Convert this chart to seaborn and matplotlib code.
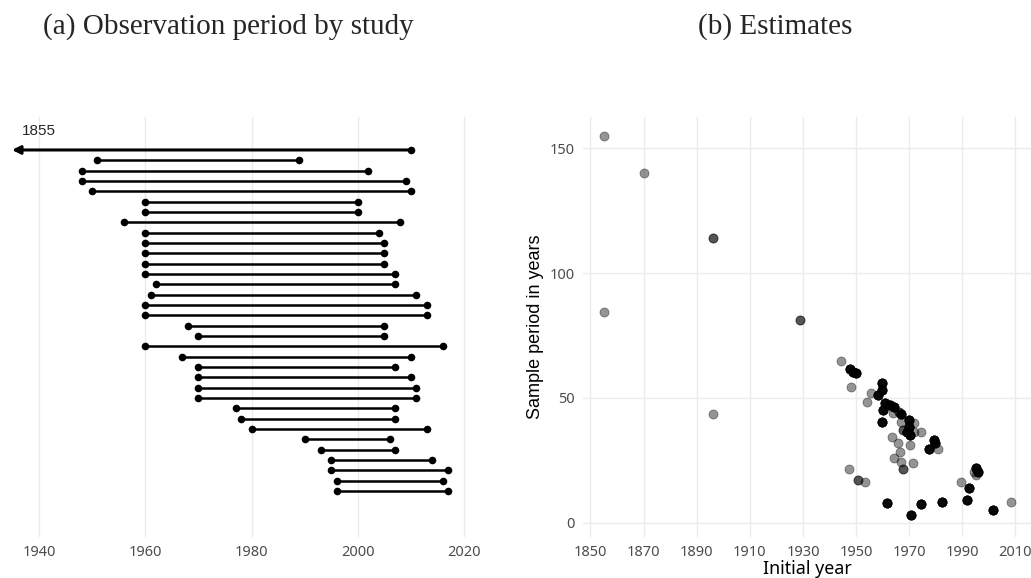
import numpy as np
import pandas as pd
import matplotlib
matplotlib.use("Agg")
import matplotlib.pyplot as plt
import seaborn as sns

# ---------------- data ----------------
# (a) observation period by study
start_years = [1855, 1951, 1948, 1948, 1950, 1960, 1960, 1956, 1960, 1960, 1960, 1960,
               1960, 1962, 1961, 1960, 1960, 1968, 1970, 1960, 1967, 1970, 1970, 1970,
               1970, 1977, 1978, 1980, 1990, 1993, 1995, 1995, 1996, 1996]
end_years = [2010, 1989, 2002, 2009, 2010, 2000, 2000, 2008, 2004, 2005, 2005, 2005,
             2007, 2007, 2011, 2013, 2013, 2005, 2005, 2016, 2010, 2007, 2010, 2011,
             2011, 2007, 2007, 2013, 2006, 2007, 2014, 2017, 2016, 2017]
left_ticks = [1940, 1960, 1980, 2000, 2020]

# (b) estimates: initial year, sample period, number of overlapping estimates
est_year = [1855, 1870, 1855, 1896, 1944.5, 1948, 1955.8, 1954, 1947.5, 1953.4,
            1989.7, 2008.3, 1963.6, 1965.7, 1970.5, 1966.7, 1964.4, 1967, 1971.4, 1971.7,
            1972, 1974.6, 1980.8, 1964.1, 1967, 1994.3, 1995, 1966,
            1896, 1929, 1950.8, 1967.6, 1967.7,
            1947.6, 1948.9, 1949.9, 1959.8, 1959.6, 1958.4, 1961, 1962.9, 1964.2, 1967,
            1959.8, 1960, 1969.8, 1969.8, 1969, 1970.5, 1979.3, 1979.9, 1977.4, 1995,
            1996, 1992.4, 1991.6, 1961.7, 1970.7, 1974.5, 1982.3, 2001.6]
est_period = [155, 140, 84.3, 43.5, 64.7, 54.4, 52.1, 48.5, 21.5, 16.2,
              16.4, 8.2, 34.2, 32.1, 31.1, 28.4, 26, 24.4, 24, 39.8,
              36.5, 36.2, 29.5, 43.8, 40.5, 20.2, 19.1, 44.5,
              114, 81.2, 17.0, 21.5, 37.1,
              61.5, 60.5, 59.9, 56.1, 53.2, 51.2, 47.8, 47.2, 46.5, 43.5,
              40.5, 45, 41.1, 38.5, 36.5, 35.1, 33.1, 31.8, 29.5, 21.8,
              20.4, 13.8, 9.1, 7.9, 3.2, 7.4, 8.2, 5.0]
est_count = [1, 1, 1, 1, 1, 1, 1, 1, 1, 1,
             1, 1, 1, 1, 1, 1, 1, 1, 1, 1,
             1, 1, 1, 1, 1, 1, 1, 2,
             2, 2, 2, 2, 2,
             6, 6, 6, 6, 6, 6, 6, 6, 6, 6,
             6, 6, 6, 6, 6, 6, 6, 6, 6, 6,
             6, 6, 6, 6, 6, 6, 6, 6]
right_xticks = [1850, 1870, 1890, 1910, 1930, 1950, 1970, 1990, 2010]
right_yticks = [0, 50, 100, 150]

title_a = "(a) Observation period by study"
title_b = "(b) Estimates"
xlabel_b = "Initial year"
ylabel_b = "Sample period in years"

# ---------------- style ----------------
sns.set_theme(style="whitegrid")
plt.rcParams['font.family'] = ['Noto Sans', 'DejaVu Sans']
grid_c = "#ebebeb"
tick_c = "#4d4d4d"

W, H = 1031, 578
fig = plt.figure(figsize=(W / 100, H / 100), dpi=100)

def fx(px):
    return px / W

def fy(py):
    return 1 - py / H

# ---------------- panel (a) ----------------
axA = fig.add_axes([fx(4), fy(537), fx(486), (537 - 117) / H])
n = len(start_years)
rows = np.arange(1, n + 1)
axA.set_xlim(1933.41, 1933.41 + 486 / 5.3125)
axA.set_ylim(38.45, -2.19)
xmin = axA.get_xlim()[0]

dfA = pd.DataFrame({"start": start_years, "end": end_years, "row": rows})
dfA["clipped"] = dfA["start"] < xmin
seg = dfA[~dfA["clipped"]]
axA.hlines(seg["row"], seg["start"], seg["end"], color="black", lw=1.8, zorder=2)
pts = pd.concat([
    seg[["start", "row"]].rename(columns={"start": "year"}),
    dfA[["end", "row"]].rename(columns={"end": "year"}),
])
sns.scatterplot(data=pts, x="year", y="row", ax=axA, color="black", s=30,
                edgecolor="black", linewidth=0, zorder=3)
for _, r in dfA[dfA["clipped"]].iterrows():
    axA.annotate("", xy=(xmin + 1.5, r["row"]), xytext=(r["end"], r["row"]),
                 arrowprops=dict(arrowstyle="-|>", lw=2.2, color="black",
                                 mutation_scale=12, shrinkA=0, shrinkB=0),
                 zorder=2)
    axA.text(xmin + 3.3, r["row"] - 1.2, str(int(r["start"])), fontsize=11,
             family=["Liberation Sans", "DejaVu Sans"], ha="left", va="bottom")

axA.set_xticks(left_ticks)
axA.set_yticks([])
axA.grid(axis="x", color=grid_c, lw=1.0)
axA.grid(axis="y", visible=False)
axA.tick_params(axis="x", length=0, labelsize=10.5, labelcolor=tick_c, pad=6)
axA.set_xlabel("")
axA.set_ylabel("")
for s in axA.spines.values():
    s.set_visible(False)
axA.set_facecolor("white")

# ---------------- panel (b) ----------------
axB = fig.add_axes([fx(583), fy(537), fx(W - 583), (537 - 117) / H])
dfB = pd.DataFrame({"year": est_year, "period": est_period, "n": est_count})
dfB = dfB.loc[dfB.index.repeat(dfB["n"])]
sns.scatterplot(data=dfB, x="year", y="period", ax=axB, color="black", alpha=0.42,
                s=42, edgecolor="black", linewidth=0.6, zorder=3)
axB.set_xlim(1847.2, 1847.2 + (W - 583) / 2.656)
axB.set_ylim(-5.73, 162.55)
axB.set_xticks(right_xticks)
axB.set_yticks(right_yticks)
axB.grid(color=grid_c, lw=1.0)
axB.tick_params(length=0, labelsize=10.5, labelcolor=tick_c)
axB.tick_params(axis="x", pad=6)
axB.tick_params(axis="y", pad=6)
axB.set_xlabel(xlabel_b, fontsize=12.8, color="black", labelpad=0)
axB.set_ylabel(ylabel_b, fontsize=13, color="black",
               family=["Liberation Sans", "DejaVu Sans"], labelpad=4)
for s in axB.spines.values():
    s.set_visible(False)
axB.set_facecolor("white")

# ---------------- titles ----------------
fig.text(fx(228), fy(27), title_a, fontsize=21, ha="center", va="center",
         family=["Liberation Serif", "DejaVu Serif"])
fig.text(fx(775), fy(27), title_b, fontsize=21, ha="center", va="center",
         family=["Liberation Serif", "DejaVu Serif"])

fig.savefig("out.png", dpi=100, facecolor="white")
